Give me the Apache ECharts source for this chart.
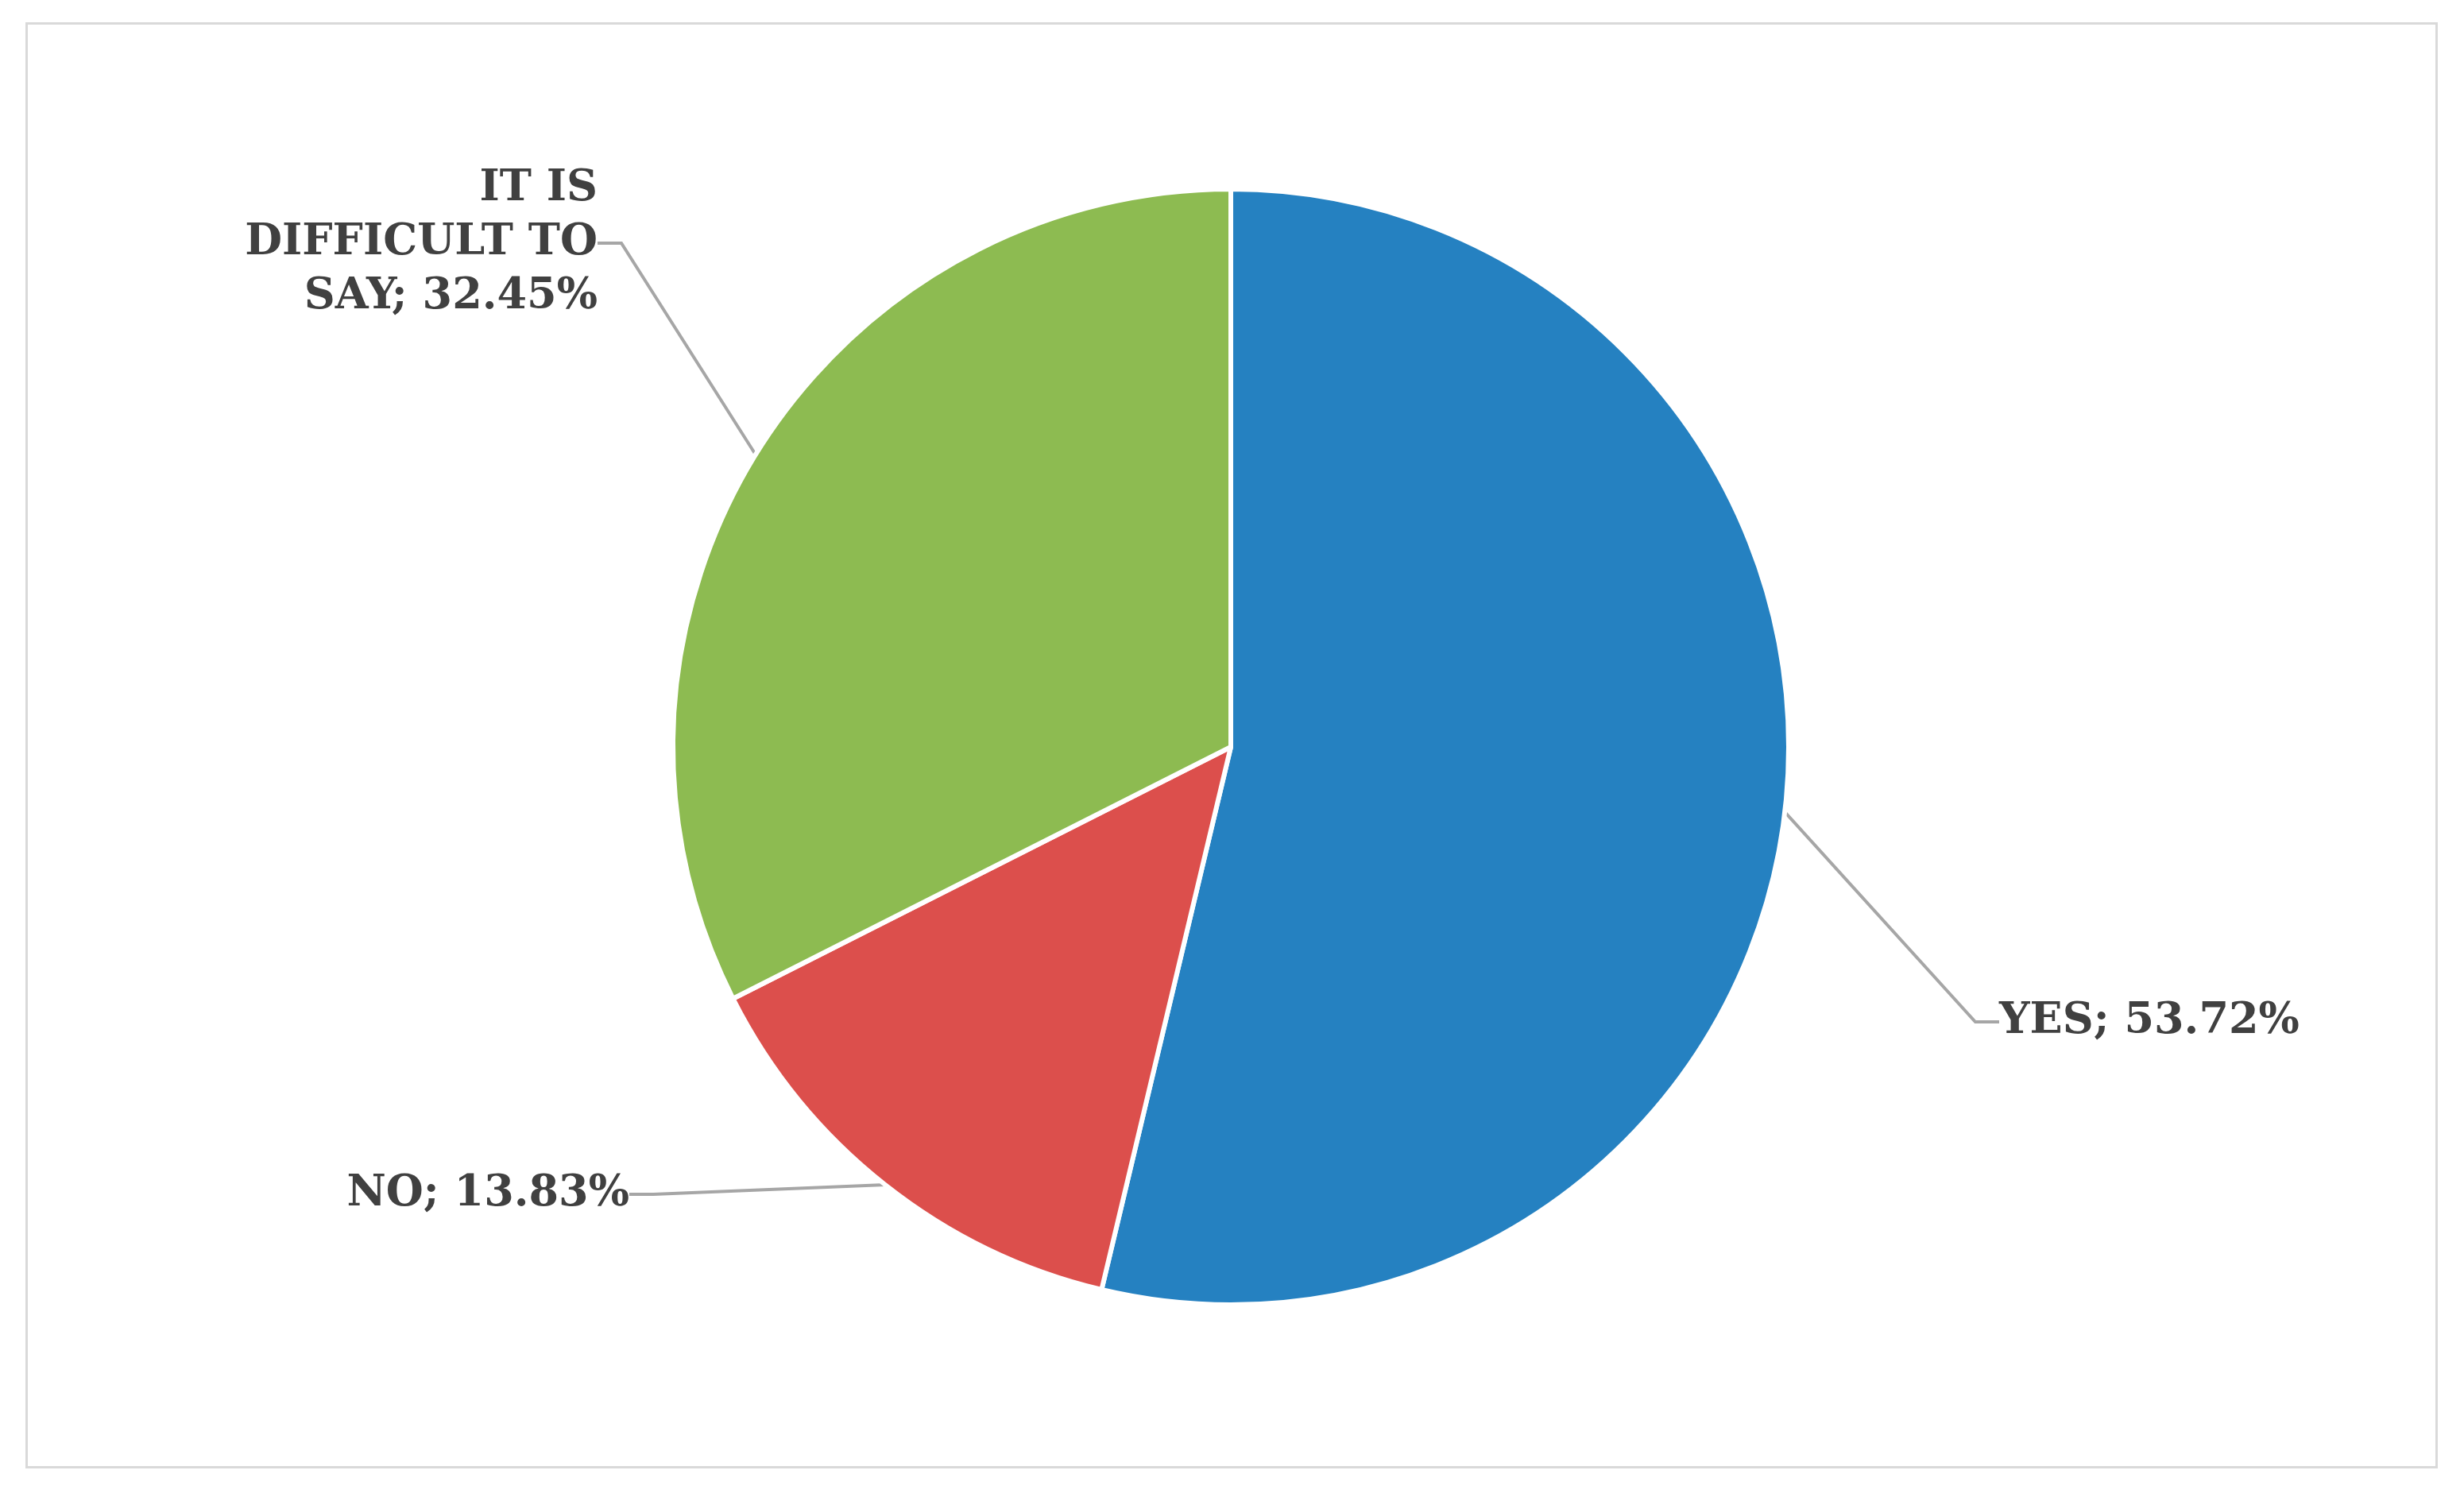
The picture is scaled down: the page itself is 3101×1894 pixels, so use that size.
<!DOCTYPE html>
<html><head><meta charset="utf-8">
<script src="https://cdn.jsdelivr.net/npm/echarts@6/dist/echarts.min.js"></script>
<style>html,body{margin:0;padding:0;background:#fff}#c{width:3101px;height:1894px}
#f{position:absolute;left:32px;top:28px;width:3036px;height:1820px;border:3px solid #d9d9d9;box-sizing:border-box}</style>
</head><body><div id="f"></div><div id="c"></div>
<script>
const categories = ["YES", "NO", "IT IS DIFFICULT TO SAY"];
const values = [53.72, 13.83, 32.45];
const colors = ["#2581C1", "#DC4F4C", "#8DBB51"];
const labelText = ["YES; 53.72%", "NO; 13.83%", "IT IS\nDIFFICULT TO\nSAY; 32.45%"];
const chart = echarts.init(document.getElementById('c'));
const spots = [
  {x: 2516, y: 1286, align: 'left'},
  {x: 792, y: 1503, align: 'right'},
  {x: 752, y: 306, align: 'right'}
];
chart.setOption({
  animation: false,
  series: [{
    type: 'pie',
    center: [1549, 940],
    radius: 702,
    startAngle: 90,
    clockwise: true,
    data: categories.map((c, i) => ({name: c, value: values[i], itemStyle: {color: colors[i]}})),
    itemStyle: {borderColor: '#fff', borderWidth: 6},
    label: {
      show: true,
      formatter: p => labelText[p.dataIndex],
      fontFamily: 'DejaVu Serif',
      fontWeight: 'bold',
      fontSize: 54,
      lineHeight: 68,
      color: '#404040',
      align: 'center'
    },
    labelLine: {show: true, lineStyle: {color: '#A6A6A6', width: 4}},
    labelLayout: p => {
      const s = spots[p.dataIndex];
      return {x: s.x, y: s.y, align: s.align, verticalAlign: 'middle'};
    }
  }]
});
</script></body></html>
